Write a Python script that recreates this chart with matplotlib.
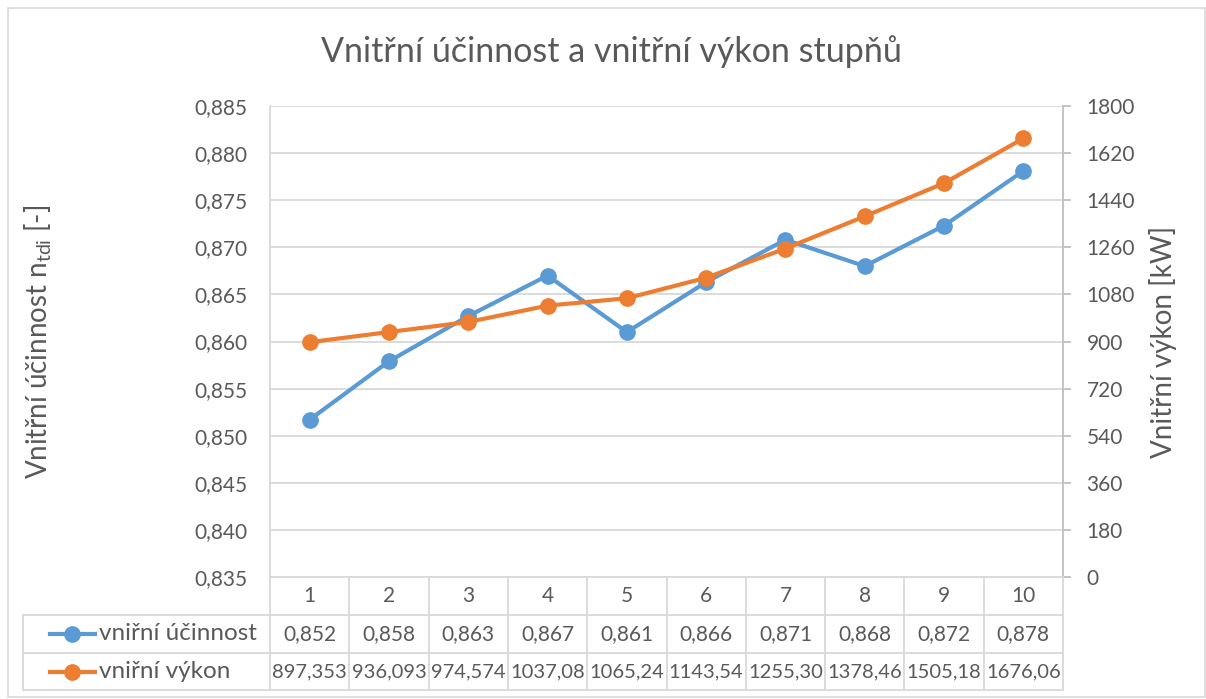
import matplotlib.pyplot as plt
import matplotlib as mpl
from matplotlib.transforms import blended_transform_factory
from matplotlib.lines import Line2D
from matplotlib.patches import Rectangle

mpl.rcParams.update({
    "font.family": ["Lato", "DejaVu Sans"],
    "mathtext.fontset": "custom",
    "mathtext.rm": "Lato",
    "mathtext.it": "Lato",
    "text.color": "#595959",
})

# data
stages = [1, 2, 3, 4, 5, 6, 7, 8, 9, 10]
eff = [0.8517, 0.8579, 0.8627, 0.8670, 0.8610, 0.8663, 0.8708, 0.8680, 0.8723, 0.8781]
power = [897.353, 936.093, 974.574, 1037.08, 1065.24, 1143.54, 1255.30, 1378.46, 1505.18, 1676.06]
eff_name = "vniřní účinnost"
power_name = "vniřní výkon"

BLUE = "#5B9BD5"
ORANGE = "#ED7D31"
GRID = "#D9D9D9"
TXT = "#595959"

W, H = 1206, 699
fig = plt.figure(figsize=(W / 100, H / 100), dpi=100)

# plot area in pixels
left, right, top, bottom = 270, 1063, 106, 577
ax = fig.add_axes([left / W, 1 - bottom / H, (right - left) / W, (bottom - top) / H])
ax2 = ax.twinx()

ax.plot(stages, eff, color=BLUE, lw=3, marker="o", ms=11, zorder=3)
ax2.plot(stages, power, color=ORANGE, lw=3, marker="o", ms=11, zorder=3)

ax.set_xlim(0.5, 10.5)
ax.set_ylim(0.835, 0.885)
ax.set_yticks([0.835 + 0.005 * i for i in range(11)])
ax.set_yticklabels([f"{0.835 + 0.005 * i:.3f}".replace(".", ",") for i in range(11)])
ax2.set_ylim(0, 1800)
ax2.set_yticks(range(0, 1801, 180))

ax.grid(axis="y", color=GRID, lw=1.3)
ax.set_axisbelow(True)
ax.set_xticks([])
for a in (ax, ax2):
    for s in a.spines.values():
        s.set_visible(False)
ax.spines["left"].set_visible(True)
ax.spines["left"].set_color(GRID)
ax.spines["left"].set_linewidth(1.3)
ax.spines["bottom"].set_visible(True)
ax.spines["bottom"].set_color(GRID)
ax.spines["bottom"].set_linewidth(1.3)
ax2.spines["right"].set_visible(True)
ax2.spines["right"].set_color("#BFBFBF")
ax2.spines["right"].set_linewidth(1.3)

ax.tick_params(axis="y", length=0, pad=16, labelsize=15, labelcolor=TXT)
ax2.tick_params(axis="y", length=6, width=1.3, color="#BFBFBF", pad=11,
                labelsize=15, labelcolor=TXT)

ax.set_ylabel(r"Vnitřní účinnost n$_{\mathrm{tdi}}$ [-]", fontsize=20, color=TXT)
ax.yaxis.set_label_coords(-0.272, 0.5)
ax2.set_ylabel("Vnitřní výkon [kW]", fontsize=20, color=TXT)
ax2.yaxis.set_label_coords(1.108, 0.5)

fig.text(611 / W, 1 - 52 / H, "Vnitřní účinnost a vnitřní výkon stupňů",
         ha="center", va="center", fontsize=24.5, color=TXT)

# outer chart border
fig.patches.append(Rectangle((8 / W, 2 / H), (W - 9) / W, (H - 10) / H,
                             transform=fig.transFigure, fill=False,
                             edgecolor=GRID, lw=1.2))

# data table below the plot
tr = blended_transform_factory(ax.transData, fig.transFigure)
figpx = lambda y: 1 - y / H
row_y = [577, 615, 653, 690]
tab_left = 23


def hline(x0, x1, y):
    fig.add_artist(Line2D([x0 / W, x1 / W], [figpx(y), figpx(y)],
                          transform=fig.transFigure, color=GRID, lw=1.3))


def vline(xd, y0, y1):
    fig.add_artist(Line2D([xd, xd], [figpx(y0), figpx(y1)],
                          transform=tr, color=GRID, lw=1.3))


for y in row_y[1:]:
    hline(tab_left, right, y)
for k in range(len(stages) + 1):
    vline(0.5 + k, row_y[0], row_y[3])
fig.add_artist(Line2D([tab_left / W, tab_left / W], [figpx(row_y[1]), figpx(row_y[3])],
                      transform=fig.transFigure, color=GRID, lw=1.3))

for i, s in enumerate(stages):
    fig.text(s, figpx(596), str(s), transform=tr, ha="center", va="center",
             fontsize=15, color=TXT)
    fig.text(s, figpx(634), f"{eff[i]:.3f}".replace(".", ","), transform=tr,
             ha="center", va="center", fontsize=15, color=TXT)
    dec = 3 if power[i] < 1000 else 2
    fig.text(s, figpx(672), f"{power[i]:.{dec}f}".replace(".", ","), transform=tr,
             ha="center", va="center", fontsize=14.5, color=TXT)

for y, name, col in [(634, eff_name, BLUE), (672, power_name, ORANGE)]:
    fig.add_artist(Line2D([50 / W, 95 / W], [figpx(y), figpx(y)],
                          transform=fig.transFigure, color=col, lw=3))
    fig.add_artist(Line2D([72 / W], [figpx(y)], transform=fig.transFigure,
                          color=col, marker="o", ms=11, lw=0))
    fig.text(99 / W, figpx(y), name, ha="left", va="center", fontsize=17.5, color=TXT)

fig.savefig("out.png", dpi=100)
